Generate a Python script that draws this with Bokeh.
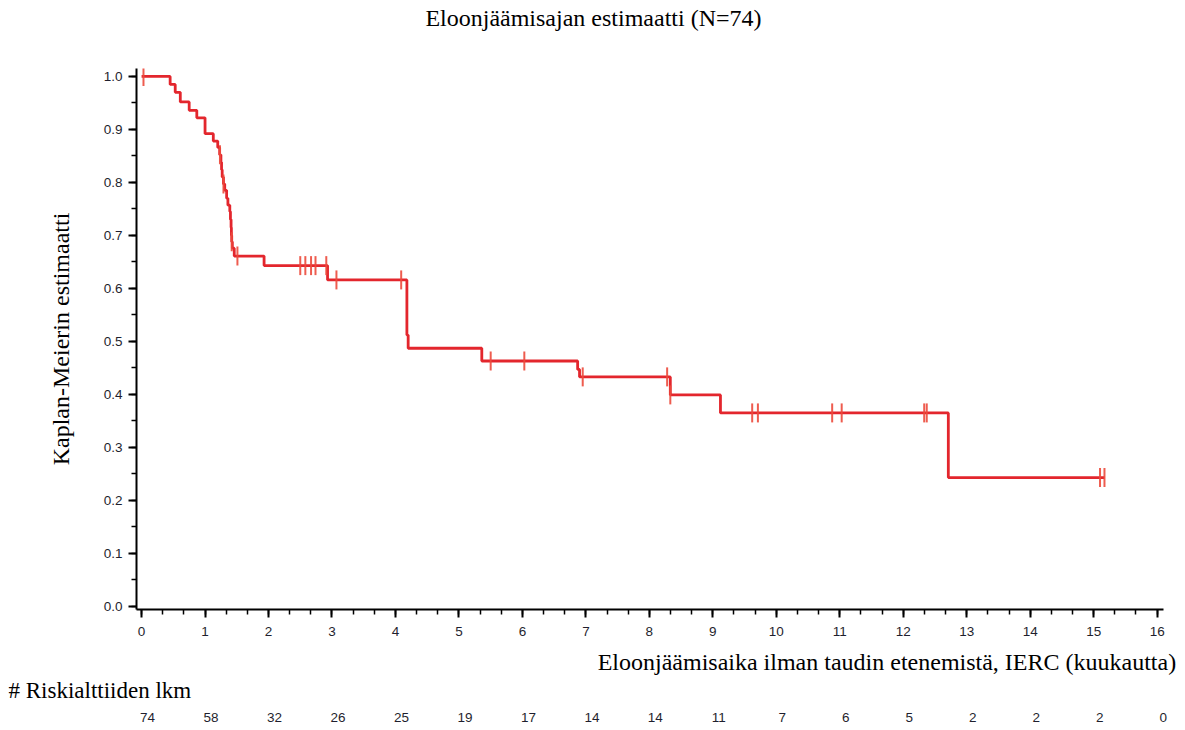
import numpy as np
from bokeh.plotting import figure
from bokeh.models import (SingleIntervalTicker, FixedTicker, PrintfTickFormatter,
                          CustomJSTickFormatter, LinearAxis, Range1d, Title)
from bokeh.embed import file_html
from bokeh.resources import INLINE

# ---------------- data ----------------
title_text = "Eloonjäämisajan estimaatti (N=74)"
x_label_text = "Eloonjäämisaika ilman taudin etenemistä, IERC (kuukautta)"
y_label_text = "Kaplan-Meierin estimaatti"
risk_title_text = "# Riskialttiiden lkm"

event_times = [0.45, 0.53, 0.61, 0.75, 0.87, 1.00, 1.13, 1.20,
               1.23, 1.25, 1.26, 1.27, 1.29, 1.31, 1.34, 1.36, 1.39,
               1.40, 1.41, 1.415, 1.42, 1.43, 1.46,
               1.93, 2.93, 4.18, 4.20, 5.36, 6.87, 6.90, 8.33, 9.12, 12.71]
survival = [0.985, 0.970, 0.952, 0.936, 0.922, 0.892, 0.878, 0.866,
            0.852, 0.838, 0.824, 0.810, 0.797, 0.785, 0.770, 0.757, 0.745,
            0.730, 0.715, 0.700, 0.688, 0.676, 0.661,
            0.643, 0.616, 0.512, 0.487, 0.463, 0.447, 0.433, 0.399, 0.365, 0.243]
end_time = 15.17

censor_times = [0.03, 1.235, 1.29, 1.42, 1.51,
                2.50, 2.58, 2.67, 2.74, 2.91, 3.07, 4.09,
                5.50, 6.03, 6.95, 8.28, 8.33,
                9.62, 9.71, 10.88, 11.03, 12.33, 12.37, 15.10, 15.17]
censor_surv = [1.0, 0.852, 0.797, 0.688, 0.661,
               0.643, 0.643, 0.643, 0.643, 0.643, 0.616, 0.616,
               0.463, 0.463, 0.433, 0.433, 0.399,
               0.365, 0.365, 0.365, 0.365, 0.365, 0.365, 0.243, 0.243]

risk_times = list(range(17))
risk_counts = [74, 58, 32, 26, 25, 19, 17, 14, 14, 11, 7, 6, 5, 2, 2, 2, 0]

# ---------------- layout (page pixels) ----------------
W, H = 1185, 730
L, T, B = 136, 68, 609
x0, x1 = -0.08, 16.10
y0, y1 = -0.006, 1.015
ppx = 63.48
R = int(round(L + (x1 - x0) * ppx))


def month_at(px):
    return x0 + (px - L) / ppx


tick_color = "#1f1f2e"
red = "#e3262d"

p = figure(width=W, height=H, output_backend="svg", toolbar_location=None,
           x_range=Range1d(x0, x1), y_range=Range1d(y0, y1),
           min_border_left=L, min_border_right=W - R,
           min_border_top=T, min_border_bottom=H - B)
p.grid.visible = False
p.outline_line_color = None

xs = [0.0] + event_times + [end_time]
ys = [1.0] + survival + [survival[-1]]
p.step(xs, ys, mode="after", line_color=red, line_width=2.8)

half = 9.5 * (y1 - y0) / (B - T)
p.segment(x0=censor_times, x1=censor_times,
          y0=[s - half for s in censor_surv], y1=[s + half for s in censor_surv],
          line_color="#ec4a3c", line_width=2, line_alpha=0.9)

for ax in (p.xaxis[0], p.yaxis[0]):
    ax.axis_line_width = 2
    ax.axis_line_color = "black"
    ax.major_tick_line_width = 2
    ax.minor_tick_line_width = 1.5
    ax.major_tick_out = 8
    ax.major_tick_in = 0
    ax.minor_tick_out = 5
    ax.minor_tick_in = 0
    ax.major_label_text_font = "Liberation Sans"
    ax.major_label_text_font_size = "13.5px"
    ax.major_label_text_color = tick_color

p.xaxis.ticker = SingleIntervalTicker(interval=1, num_minor_ticks=3)
p.yaxis.ticker = SingleIntervalTicker(interval=0.1, num_minor_ticks=2)
p.yaxis.formatter = PrintfTickFormatter(format="%.1f")
p.xaxis.major_label_standoff = 9
p.yaxis.major_label_standoff = 6

p.yaxis.axis_label = y_label_text
p.yaxis.axis_label_text_font = "Liberation Serif"
p.yaxis.axis_label_text_font_style = "normal"
p.yaxis.axis_label_text_font_size = "24px"
p.yaxis.axis_label_text_color = "black"
p.yaxis.axis_label_standoff = 27


def text_axis(tick_positions, labels, font, size, color, standoff):
    ax = LinearAxis(ticker=FixedTicker(ticks=tick_positions, minor_ticks=[]),
                    formatter=CustomJSTickFormatter(args=dict(labels=labels),
                                                    code="return labels[index];"))
    ax.axis_line_color = None
    ax.major_tick_line_color = None
    ax.minor_tick_line_color = None
    ax.major_tick_out = 0
    ax.major_tick_in = 0
    ax.major_label_standoff = standoff
    ax.major_label_text_font = font
    ax.major_label_text_font_size = size
    ax.major_label_text_color = color
    return ax


# title above the plot
p.add_layout(text_axis([month_at(593)], [title_text], "Liberation Serif", "24px",
                       "black", 38), "above")

# x-axis title (right part of the bottom area)
p.add_layout(text_axis([month_at(886.5)], [x_label_text], "Liberation Serif", "24px",
                       "black", 10), "below")

# numbers-at-risk caption
p.add_layout(Title(text=risk_title_text, align="left", offset=8 - L,
                   vertical_align="top", standoff=0,
                   text_font="Liberation Serif", text_font_size="23px",
                   text_font_style="normal", text_color="black"), "below")

# numbers at risk under each month (label centres sit a few px right of ticks)
risk_pos = [t + 6.0 / ppx for t in risk_times]
p.add_layout(text_axis(risk_pos, [str(n) for n in risk_counts], "Liberation Sans",
                       "13.5px", tick_color, 8), "below")

open("out.html", "w").write(file_html(p, INLINE))
